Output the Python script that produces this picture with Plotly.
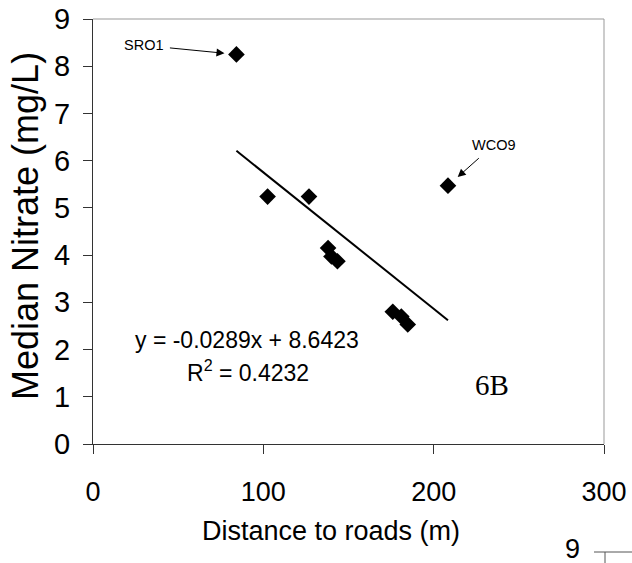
import plotly.graph_objects as go

# Data
distance_m = [84.2, 102.5, 126.8, 138.0, 140.0, 143.5, 176.0, 181.0, 184.8, 208.4]
median_nitrate = [8.25, 5.24, 5.24, 4.15, 3.97, 3.87, 2.80, 2.70, 2.53, 5.47]
slope = -0.0289
intercept = 8.6423
r_squared = 0.4232
x_ticks = [0, 100, 200, 300]
y_ticks = [0, 1, 2, 3, 4, 5, 6, 7, 8, 9]
site_names = ["SRO1", "WCO9"]
site_x = [84.2, 208.4]
site_y = [8.25, 5.47]

FONT = "Liberation Sans, Arial, sans-serif"
W, H = 632, 563
L, T, R, B = 93, 19, 28, 119
PW, PH = W - L - R, H - T - B


def dx(px):  # page pixel -> x domain fraction
    return (px - L) / PW


def dy(py):  # page pixel -> y domain fraction
    return (H - B - py) / PH


fig = go.Figure()
fig.add_trace(go.Scatter(
    x=distance_m, y=median_nitrate, mode="markers",
    marker=dict(symbol="diamond", size=12.8, color="black", line=dict(width=0)),
    showlegend=False, cliponaxis=False,
))
x_fit = [min(distance_m), max(distance_m)]
y_fit = [slope * v + intercept for v in x_fit]
fig.add_trace(go.Scatter(
    x=x_fit, y=y_fit, mode="lines",
    line=dict(color="black", width=2), showlegend=False,
))

axis_common = dict(
    showgrid=False, zeroline=False, showline=True, linecolor="#333333", linewidth=1,
    ticks="outside", ticklen=9, tickwidth=1, tickcolor="#333333",
    ticklabeloverflow="allow",
)
fig.update_xaxes(range=[0, 300], tickvals=x_ticks, ticklabelstandoff=15,
                 tickfont=dict(family=FONT, size=27, color="black"), **axis_common)
fig.update_yaxes(range=[0, 9], tickvals=y_ticks, ticklabelstandoff=7,
                 tickfont=dict(family=FONT, size=29, color="black"), **axis_common)

C = dict(xanchor="center", yanchor="middle", showarrow=False)

# Axis titles
fig.add_annotation(xref="x domain", yref="y domain", x=dx(331), y=dy(531),
                   text="Distance to roads (m)", **C,
                   font=dict(family=FONT, size=27, color="black"))
fig.add_annotation(xref="x domain", yref="y domain", x=dx(25), y=dy(226),
                   text="Median Nitrate (mg/L)", textangle=-90, **C,
                   font=dict(family=FONT, size=36, color="black"))

# gray top/right frame
fig.add_shape(type="line", xref="paper", yref="paper", x0=0, x1=1, y0=1, y1=1,
              line=dict(color="#999999", width=1))
fig.add_shape(type="line", xref="paper", yref="paper", x0=1, x1=1, y0=0, y1=1,
              line=dict(color="#999999", width=1))

# Equation text
fig.add_annotation(x=90.2, y=2.21, xref="x", yref="y", text=f"y = {slope}x + {intercept}",
                   **C, font=dict(family=FONT, size=23, color="black"))
fig.add_annotation(x=90.8, y=1.55, xref="x", yref="y", text=f"R<sup>2</sup> = {r_squared}",
                   **C, font=dict(family=FONT, size=23, color="black"))
fig.add_annotation(x=234, y=1.26, xref="x", yref="y", text="6B", **C,
                   font=dict(family="Liberation Serif, Times New Roman, serif", size=29, color="black"))

# Site labels with arrows (text offset in pixels from the marked point)
label_offsets = [(-92, -9), (46, -41)]
arrow_standoff = [12, 13]
for name, sx, sy, (ax, ay), so in zip(site_names, site_x, site_y, label_offsets, arrow_standoff):
    fig.add_annotation(x=sx, y=sy, xref="x", yref="y", text=name, showarrow=True,
                       ax=ax, ay=ay, standoff=so,
                       arrowhead=2, arrowsize=1.6, arrowwidth=1, arrowcolor="black",
                       borderpad=5, font=dict(family=FONT, size=14.5, color="black"))

# Fragment of adjacent panel visible at bottom-right
fig.add_annotation(xref="x domain", yref="y domain", x=dx(572), y=dy(549),
                   text="9", **C, font=dict(family=FONT, size=27, color="black"))
fig.add_shape(type="line", xref="x domain", yref="y domain",
              x0=dx(594), x1=dx(632), y0=dy(552), y1=dy(552),
              line=dict(color="#555555", width=1))
fig.add_shape(type="line", xref="x domain", yref="y domain",
              x0=dx(605), x1=dx(605), y0=dy(552), y1=dy(563),
              line=dict(color="#555555", width=1))

fig.update_layout(
    width=W, height=H,
    margin=dict(l=L, r=R, t=T, b=B, pad=0, autoexpand=False),
    paper_bgcolor="white", plot_bgcolor="white",
    font=dict(family=FONT, color="black"),
)

fig.write_html(
    "out.html",
    config={"displayModeBar": False},
    post_script="document.body.style.margin='0';document.body.style.overflow='hidden';",
)
